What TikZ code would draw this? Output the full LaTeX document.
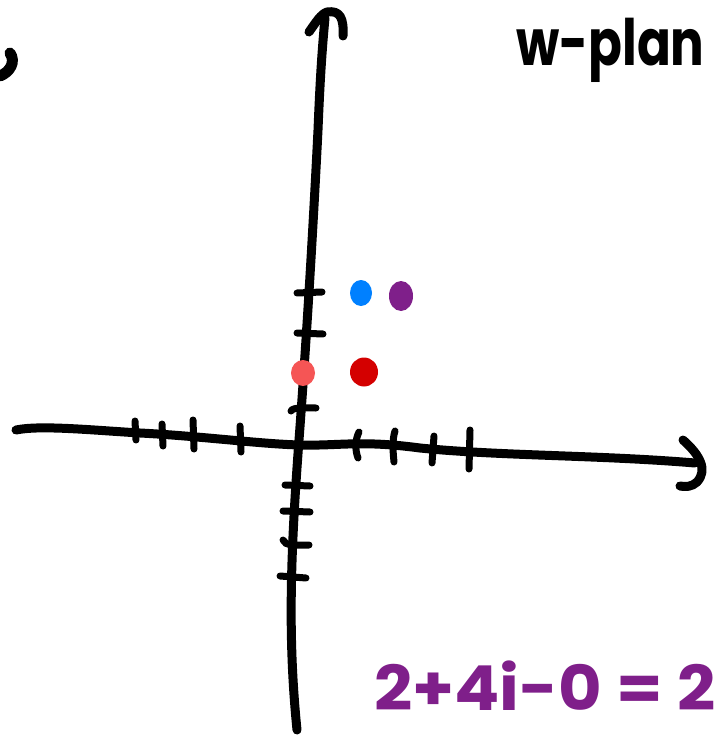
\documentclass[tikz,border=0pt]{standalone}
\usepackage{fontspec}
\usetikzlibrary{shapes.geometric}
\setmainfont{Poppins}
\definecolor{dotblue}{HTML}{0080FF}
\definecolor{dotpurple}{HTML}{7F1F8A}
\definecolor{dotred}{HTML}{D40000}
\definecolor{dotsalmon}{HTML}{F55555}
\definecolor{inkpurple}{HTML}{7F1F8A}
\tikzset{
  axisline/.style={line width=9pt, line cap=round, line join=round},
  tick/.style={line width=7pt, line cap=round},
  dot/.style={ellipse, inner sep=0pt, minimum width=22pt, minimum height=25pt, draw=none},
}
\begin{document}
\begin{tikzpicture}[x=1pt,y=-1pt]
\useasboundingbox (0,0) rectangle (722,735);
% vertical axis
\draw[axisline] (297,730) .. controls (288,640) and (290,560) .. (299,440)
  .. controls (305,360) and (312,250) .. (318,130) .. controls (320,80) and (322,50) .. (325,18);
\draw[axisline] (309,32) .. controls (316,22) and (321,14) .. (327,12)
  .. controls (340,10) and (344,18) .. (343,36);
% horizontal axis
\draw[axisline] (16,430) .. controls (40,425) and (90,430) .. (140,433)
  .. controls (200,436) and (260,444) .. (300,445)
  .. controls (340,446) and (360,440) .. (420,448)
  .. controls (500,456) and (600,455) .. (695,463);
\draw[axisline] (683,440) .. controls (700,455) and (708,470) .. (697,482)
  .. controls (692,487) and (685,487) .. (680,486);
% horizontal axis ticks
\draw[tick] (135,421) -- (136,440);
\draw[tick] (162,424) -- (163,446);
\draw[tick] (193,420) -- (194,449);
\draw[tick] (240,426) -- (241,452);
\draw[tick] (359,432) .. controls (355,440) and (355,450) .. (358,458);
\draw[tick] (395,431) .. controls (392,440) and (393,452) .. (394,462);
\draw[tick] (434,436) -- (432,463);
\draw[tick] (470,430) -- (469,469);
% vertical axis ticks
\draw[tick] (297,293) -- (322,292);
\draw[tick] (297,333) -- (323,334);
\draw[tick] (291,411) .. controls (293,407) and (305,408) .. (316,408);
\draw[tick] (285,485) -- (310,486);
\draw[tick] (283,511) -- (310,512);
\draw[tick] (283,540) .. controls (285,546) and (295,545) .. (309,545);
\draw[tick] (280,576) -- (306,578);
% dots
\node[dot, fill=dotblue, minimum width=22pt, minimum height=26pt] (b) at (361,293) {};
\node[dot, fill=dotpurple, minimum width=24pt, minimum height=30pt] (p) at (401,296) {};
\node[dot, fill=dotred, minimum width=28pt, minimum height=29pt] (r) at (364,372) {};
\node[dot, fill=dotsalmon, minimum width=24pt, minimum height=26pt] (s) at (303,373) {};
% top-left fragment
\draw[line width=11pt, line cap=round] (0,76) .. controls (10,72) and (16,62) .. (10,53);
% labels
\node[anchor=base west, inner sep=0pt, font=\fontsize{64}{64}\selectfont\bfseries] (wp) at (516,66) {\scalebox{0.78}[1]{w-plan}};
\node[anchor=base west, inner sep=0pt, text=inkpurple, font=\fontsize{62}{62}\selectfont\bfseries] (eq) at (374,710) {\scalebox{1.08}[1]{2+4i-0 = 2}};
\end{tikzpicture}
\end{document}
